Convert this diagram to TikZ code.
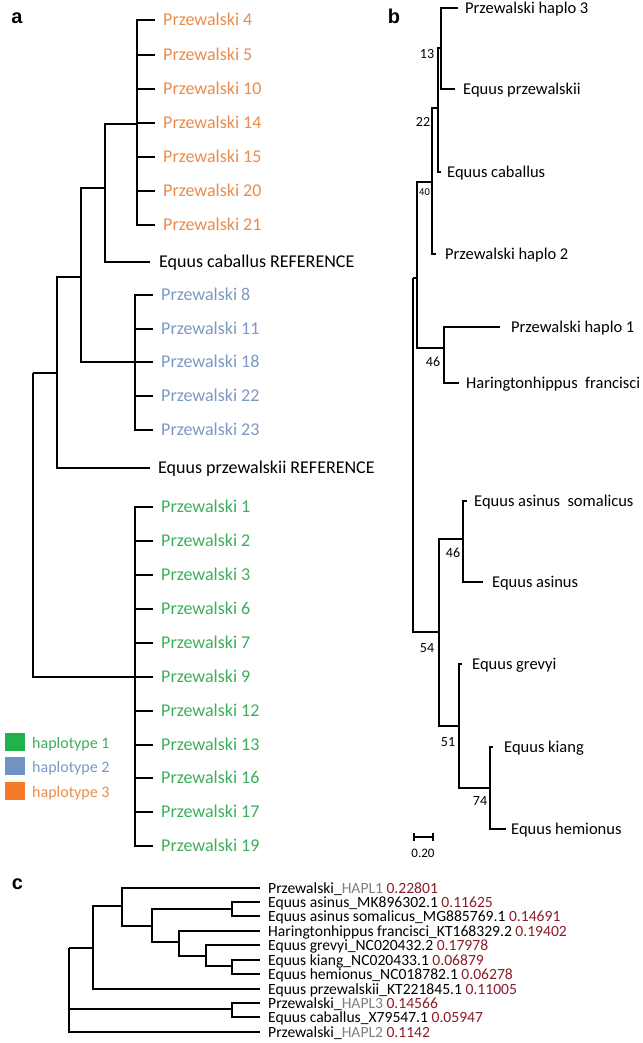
\documentclass[tikz,border=0pt]{standalone}
\usepackage{fontspec}
\setmainfont{Carlito}
\newfontfamily\panelfont{Liberation Sans}
\definecolor{orT}{RGB}{234,140,76}
\definecolor{blT}{RGB}{125,152,196}
\definecolor{grT}{RGB}{60,175,90}
\definecolor{orS}{RGB}{244,124,40}
\definecolor{blS}{RGB}{112,146,196}
\definecolor{grS}{RGB}{34,177,76}
\definecolor{dred}{RGB}{140,30,40}
\definecolor{hapgray}{RGB}{128,128,128}
\newcommand\myhapl[1]{\textcolor{hapgray}{#1}}
\newcommand\mydist[1]{\textcolor{dred}{#1}}
\begin{document}
\begin{tikzpicture}[x=1pt,y=-1pt,
  brA/.style={line width=2.4pt,line join=miter},
  brB/.style={line width=2pt,line join=miter},
  brC/.style={line width=2.1pt,line join=miter},
  txt/.style 2 args={anchor=west,inner sep=0pt,font=\fontsize{#1}{#1}\selectfont,text height=#2,text depth=0pt},
  boot/.style 2 args={anchor=center,inner sep=0pt,font=\fontsize{#1}{#1}\selectfont,text height=#2,text depth=0pt},
  plab/.style={anchor=base,inner sep=0pt,font=\panelfont\bfseries\fontsize{20}{20}\selectfont},
  sq/.style={draw=none,minimum width=20pt,minimum height=18pt,inner sep=0pt}]
\useasboundingbox (0,0) rectangle (642,1043);
\fill[white] (0,0) rectangle (642,1043);

% ---------- panel labels
\node[plab] (pa) at (17,24) {a};
\node[plab] (pb) at (394,24) {b};
\node[plab] (pc) at (17.5,889) {c};

% ---------- panel a
\coordinate (aR) at (33,373);
\coordinate (aA1) at (57,373);
\coordinate (aA2) at (81,277);
\coordinate (aA3) at (105,188);
\coordinate (aO) at (137,124);
\coordinate (aB) at (135,362);
\coordinate (aG) at (135,677);
\coordinate (tCab) at (150,262);
\coordinate (tPrz) at (150,468);
\draw[brA] (aR) |- (aA1);
\draw[brA] (aR) |- (aG);
\draw[brA] (aA1) |- (aA2);
\draw[brA] (aA1) |- (tPrz);
\draw[brA] (aA2) |- (aA3);
\draw[brA] (aA2) |- (aB);
\draw[brA] (aA3) |- (aO);
\draw[brA] (aA3) |- (tCab);
\node[txt={18}{11.6pt}] (lCab) at (159,262) {Equus caballus REFERENCE};
\node[txt={18}{11.6pt}] (lPrz) at (158,468) {Equus przewalskii REFERENCE};
\foreach \n/\y in {4/20,5/55,10/89,14/123,15/157,20/191,21/225}{
  \coordinate (tO\n) at (155,\y);
  \draw[brA] (aO) |- (tO\n);
  \node[txt={18}{11.6pt},text=orT] (lO\n) at (163,\y) {Przewalski \n};
}
\foreach \n/\y in {8/295,11/329,18/362,22/396,23/430}{
  \coordinate (tB\n) at (153,\y);
  \draw[brA] (aB) |- (tB\n);
  \node[txt={18}{11.6pt},text=blT] (lB\n) at (161,\y) {Przewalski \n};
}
\foreach \n/\y in {1/507,2/541,3/575,6/609,7/643,9/677,12/711,13/745,16/778,17/812,19/846}{
  \coordinate (tG\n) at (153,\y);
  \draw[brA] (aG) |- (tG\n);
  \node[txt={18}{11.6pt},text=grT] (lG\n) at (161,\y) {Przewalski \n};
}
% legend
\node[sq,fill=grS] (kG) at (15,742) {};
\node[sq,fill=blS] (kB) at (15,766) {};
\node[sq,fill=orS] (kO) at (15,791) {};
\node[txt={16}{10.3pt},text=grT] (kGt) at (32,743) {haplotype 1};
\node[txt={16}{10.3pt},text=blT] (kBt) at (32,767) {haplotype 2};
\node[txt={16}{10.3pt},text=orT] (kOt) at (32,792) {haplotype 3};

% ---------- panel b
\coordinate (bR) at (413,278);
\coordinate (b1) at (441,48);
\coordinate (b2) at (438,108);
\coordinate (b3) at (432,182);
\coordinate (b4) at (417,278);
\coordinate (b5) at (444,348);
\coordinate (b6) at (439,632);
\coordinate (b7) at (463,539);
\coordinate (b8) at (459,726);
\coordinate (b9) at (490,788);
\coordinate (tH3) at (458,8);
\coordinate (tEp) at (455,89);
\coordinate (tEc) at (441,172);
\coordinate (tH2) at (436,254);
\coordinate (tH1) at (500,327);
\coordinate (tHf) at (459,383);
\coordinate (tEs) at (467,501);
\coordinate (tEa) at (483,582);
\coordinate (tEg) at (462,664);
\coordinate (tEk) at (493,747);
\coordinate (tEh) at (506,829);
\draw[brB] (bR) |- (b4);
\draw[brB] (bR) |- (b6);
\draw[brB] (b4) |- (b3);
\draw[brB] (b4) |- (b5);
\draw[brB] (b3) |- (b2);
\draw[brB] (b3) |- (tH2);
\draw[brB] (b2) |- (b1);
\draw[brB] (b2) |- (tEc);
\draw[brB] (b1) |- (tH3);
\draw[brB] (b1) |- (tEp);
\draw[brB] (b5) |- (tH1);
\draw[brB] (b5) |- (tHf);
\draw[brB] (b6) |- (b7);
\draw[brB] (b6) |- (b8);
\draw[brB] (b7) |- (tEs);
\draw[brB] (b7) |- (tEa);
\draw[brB] (b8) |- (tEg);
\draw[brB] (b8) |- (b9);
\draw[brB] (b9) |- (tEk);
\draw[brB] (b9) |- (tEh);
\node[txt={16.5}{10.6pt}] (lH3) at (465,8) {Przewalski haplo 3};
\node[txt={16.5}{10.6pt}] (lEp) at (463,89) {Equus przewalskii};
\node[txt={16.5}{10.6pt}] (lEc) at (447,172) {Equus caballus};
\node[txt={16.5}{10.6pt}] (lH2) at (445,254) {Przewalski haplo 2};
\node[txt={16.5}{10.6pt}] (lH1) at (511,327) {Przewalski haplo 1};
\node[txt={16.5}{10.6pt}] (lHf) at (466,383) {Haringtonhippus\ \ francisci};
\node[txt={16.5}{10.6pt}] (lEs) at (474,501) {Equus asinus\ \ somalicus};
\node[txt={16.5}{10.6pt}] (lEa) at (492,582) {Equus asinus};
\node[txt={16.5}{10.6pt}] (lEg) at (472,664) {Equus grevyi};
\node[txt={16.5}{10.6pt}] (lEk) at (504,747) {Equus kiang};
\node[txt={16.5}{10.6pt}] (lEh) at (511,829) {Equus hemionus};
% bootstrap values
\node[boot={14}{9pt}] (s13) at (427,54) {13};
\node[boot={14}{9pt}] (s22) at (423,122) {22};
\node[boot={10.5}{6.8pt}] (s40) at (424.5,192) {40};
\node[boot={14}{9pt}] (s46a) at (433,362) {46};
\node[boot={14}{9pt}] (s46b) at (453,553) {46};
\node[boot={14}{9pt}] (s54) at (427,648) {54};
\node[boot={14}{9pt}] (s51) at (448,742) {51};
\node[boot={14}{9pt}] (s74) at (480,801) {74};
% scale bar
\coordinate (sbL) at (414,837);
\coordinate (sbR) at (433,837);
\draw[line width=1.8pt] (sbL) -- (sbR);
\draw[line width=1.5pt] ([yshift=-4pt]sbL) -- ([yshift=4pt]sbL);
\draw[line width=1.5pt] ([yshift=-4pt]sbR) -- ([yshift=4pt]sbR);
\node[boot={13}{8.4pt}] (sbT) at (423,853) {0.20};

% ---------- panel c
\coordinate (cR) at (69,948);
\coordinate (c1) at (93,948);
\coordinate (c2) at (122,906);
\coordinate (c3) at (152,926);
\coordinate (c4) at (232,909);
\coordinate (c5) at (179,942);
\coordinate (c6) at (206,956);
\coordinate (c7) at (232,966);
\coordinate (c9) at (232,1009);
\foreach \k/\y in {1/888,2/902,3/916,4/931,5/945,6/960,7/974,8/989,9/1003,10/1017,11/1032}{
  \coordinate (tc\k) at (260,\y);
}
\draw[brC] (cR) |- (c1);
\draw[brC] (cR) |- (c9);
\draw[brC] (cR) |- (tc11);
\draw[brC] (c1) |- (c2);
\draw[brC] (c1) |- (tc8);
\draw[brC] (c2) |- (tc1);
\draw[brC] (c2) |- (c3);
\draw[brC] (c3) |- (c4);
\draw[brC] (c3) |- (c5);
\draw[brC] (c4) |- (tc2);
\draw[brC] (c4) |- (tc3);
\draw[brC] (c5) |- (tc4);
\draw[brC] (c5) |- (c6);
\draw[brC] (c6) |- (tc5);
\draw[brC] (c6) |- (c7);
\draw[brC] (c7) |- (tc6);
\draw[brC] (c7) |- (tc7);
\draw[brC] (c9) |- (tc9);
\draw[brC] (c9) |- (tc10);
\node[txt={15.6}{10pt}] (lc1) at (268,888) {Przewalski\_\myhapl{HAPL1} \mydist{0.22801}};
\node[txt={15.6}{10pt}] (lc2) at (268,902) {Equus asinus\_MK896302.1 \mydist{0.11625}};
\node[txt={15.6}{10pt}] (lc3) at (268,916) {Equus asinus somalicus\_MG885769.1 \mydist{0.14691}};
\node[txt={15.6}{10pt}] (lc4) at (268,931) {Haringtonhippus francisci\_KT168329.2 \mydist{0.19402}};
\node[txt={15.6}{10pt}] (lc5) at (268,945) {Equus grevyi\_NC020432.2 \mydist{0.17978}};
\node[txt={15.6}{10pt}] (lc6) at (268,960) {Equus kiang\_NC020433.1 \mydist{0.06879}};
\node[txt={15.6}{10pt}] (lc7) at (268,974) {Equus hemionus\_NC018782.1 \mydist{0.06278}};
\node[txt={15.6}{10pt}] (lc8) at (268,989) {Equus przewalskii\_KT221845.1 \mydist{0.11005}};
\node[txt={15.6}{10pt}] (lc9) at (268,1003) {Przewalski\_\myhapl{HAPL3} \mydist{0.14566}};
\node[txt={15.6}{10pt}] (lc10) at (268,1017) {Equus caballus\_X79547.1 \mydist{0.05947}};
\node[txt={15.6}{10pt}] (lc11) at (268,1032) {Przewalski\_\myhapl{HAPL2} \mydist{0.1142}};
\end{tikzpicture}
\end{document}
